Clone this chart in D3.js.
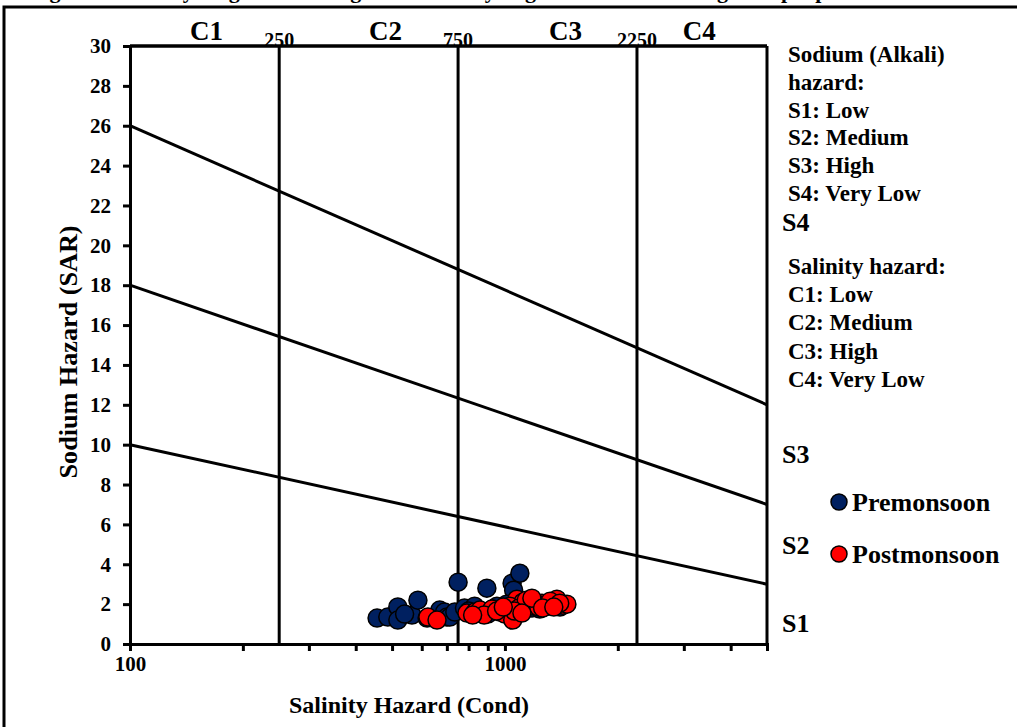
<!DOCTYPE html>
<html>
<head>
<meta charset="utf-8">
<script src="https://cdn.jsdelivr.net/npm/d3@7"></script>
<style>
  body { margin: 0; background: #fff; }
  text { font-family: "Liberation Serif", "Times New Roman", serif; font-weight: bold; fill: #000; }
</style>
</head>
<body>
<svg id="chart" width="1017" height="727"></svg>
<script>
// conductivity (uS/cm) and SAR
let premonsoon = [
  [456, 1.3], [487, 1.35], [518, 1.86], [518, 1.2], [565, 1.45], [586, 2.2],
  [540, 1.5], [620, 1.3], [670, 1.7], [690, 1.6], [700, 1.35], [713, 1.35],
  [750, 3.1], [735, 1.6], [780, 1.8], [830, 1.9], [860, 1.6], [895, 2.8],
  [952, 1.9], [1000, 1.7], [1045, 3.05], [1055, 2.7], [1096, 3.55], [1120, 1.9],
  [1180, 1.8], [1239, 1.75], [1300, 1.9], [1402, 1.85], [900, 1.5], [800, 1.65],
  [930, 1.75], [1010, 2.0]
];
let postmonsoon = [
  [623, 1.35], [659, 1.2], [792, 1.55], [832, 1.6], [858, 1.7], [923, 1.75],
  [970, 1.6], [1000, 1.5], [1049, 1.2], [1076, 2.25], [1117, 2.1], [1166, 1.9],
  [1255, 2.05], [1334, 2.0], [1376, 2.25], [1428, 1.95], [1463, 2.0], [880, 1.45],
  [950, 1.65], [1030, 1.9], [1090, 1.8], [1140, 2.2], [1200, 2.1], [1230, 1.85],
  [1290, 1.95], [1320, 2.15], [1400, 2.05], [1060, 1.65], [990, 1.85], [820, 1.45],
  [1110, 1.55], [1180, 2.3], [1260, 1.8], [1350, 1.85]
];

let xTicks = [100, 1000];
let xMinorTicks = [200, 300, 400, 500, 600, 700, 800, 900, 2000, 3000, 4000, 5000];
let yTicks = d3.range(0, 31, 2);
// class boundaries
let cBounds = [250, 750, 2250];
let cLabels = ["C1", "C2", "C3", "C4"];
let cLabelAt = [160, 480, 1450, 3300];
// S boundary lines: SAR at cond = 100 and at cond = 5000
let sLines = [[10, 3], [18, 7], [26, 12]];
let sLabels = ["S1", "S2", "S3", "S4"];
let sLabelY = [1.0, 4.9, 9.5, 21.1];
let sodiumText = ["Sodium (Alkali)", "hazard:", "S1: Low", "S2: Medium", "S3: High", "S4: Very Low"];
let salinityText = ["Salinity hazard:", "C1: Low", "C2: Medium", "C3: High", "C4: Very Low"];
let seriesNames = ["Premonsoon", "Postmonsoon"];
let seriesColors = ["#002060", "#ff0000"];

let svg = d3.select("#chart");
let plotL = 130, plotR = 767, plotT = 46, plotB = 644;

let x = d3.scaleLog().domain([100, 5000]).range([plotL, plotR]);
let y = d3.scaleLinear().domain([0, 30]).range([plotB, plotT]);

// outer frame + clipped caption
svg.append("rect").attr("x", 4).attr("y", 7).attr("width", 1100).attr("height", 800)
   .attr("fill", "none").attr("stroke", "#000").attr("stroke-width", 3);
svg.append("text").attr("x", 30).attr("y", -2).style("font-size", "22px")
   .text("Fig. 6 US Salinity diagram showing the suitability of groundwater for irrigation purposes");

// axes
let yAxis = svg.append("g").attr("transform", `translate(${plotL},0)`)
   .call(d3.axisLeft(y).tickValues(yTicks).tickSize(7).tickPadding(12));
yAxis.selectAll("text").style("font-size", "21px");

let xAxis = svg.append("g").attr("transform", `translate(0,${plotB})`)
   .call(d3.axisBottom(x).tickValues(xTicks.concat(xMinorTicks)).tickSize(7).tickPadding(5)
         .tickFormat(d => xTicks.includes(d) ? d : ""));
xAxis.selectAll("text").style("font-size", "21px");

svg.selectAll(".domain, .tick line").attr("stroke", "#000").attr("stroke-width", 3);

// plot frame top & right
svg.append("line").attr("x1", plotL).attr("x2", plotR).attr("y1", plotT).attr("y2", plotT)
   .attr("stroke", "#000").attr("stroke-width", 3.5);
svg.append("line").attr("x1", plotR).attr("x2", plotR).attr("y1", plotT).attr("y2", plotB)
   .attr("stroke", "#000").attr("stroke-width", 3);

// C boundaries
svg.selectAll(".cline").data(cBounds).enter().append("line")
   .attr("x1", d => x(d)).attr("x2", d => x(d)).attr("y1", y(0)).attr("y2", y(30))
   .attr("stroke", "#000").attr("stroke-width", 3);
svg.selectAll(".cnum").data(cBounds).enter().append("text")
   .attr("x", d => x(d)).attr("y", plotT + 1).attr("text-anchor", "middle")
   .style("font-size", "20px").text(d => d);
svg.selectAll(".clab").data(cLabels).enter().append("text")
   .attr("x", (d, i) => x(cLabelAt[i])).attr("y", 40).attr("text-anchor", "middle")
   .style("font-size", "27px").text(d => d);

// S boundaries
svg.selectAll(".sline").data(sLines).enter().append("line")
   .attr("x1", x(100)).attr("y1", d => y(d[0]))
   .attr("x2", x(5000)).attr("y2", d => y(d[1]))
   .attr("stroke", "#000").attr("stroke-width", 3);
svg.selectAll(".slab").data(sLabels).enter().append("text")
   .attr("x", 782).attr("y", (d, i) => y(sLabelY[i]) + 8)
   .style("font-size", "26px").text(d => d);

// points
[premonsoon, postmonsoon].forEach(function(series, i){
  svg.append("g").selectAll("circle").data(series).enter().append("circle")
     .attr("cx", d => x(d[0])).attr("cy", d => y(d[1])).attr("r", 9)
     .attr("fill", seriesColors[i]).attr("stroke", "#000").attr("stroke-width", 1.5);
});

// right side notes
svg.selectAll(".sod").data(sodiumText).enter().append("text")
   .attr("x", 788).attr("y", (d, i) => 62 + i * 27.8)
   .style("font-size", "23px").text(d => d);
svg.selectAll(".sal").data(salinityText).enter().append("text")
   .attr("x", 788).attr("y", (d, i) => 274 + i * 28.2)
   .style("font-size", "23px").text(d => d);

// legend
let legend = svg.selectAll(".leg").data(seriesNames).enter().append("g")
   .attr("transform", (d, i) => `translate(839,${502 + i * 52})`);
legend.append("circle").attr("r", 8).attr("fill", (d, i) => seriesColors[i])
   .attr("stroke", "#000").attr("stroke-width", 1.5);
legend.append("text").attr("x", 13).attr("y", 9).style("font-size", "26px").text(d => d);

// axis titles
svg.append("text").attr("x", 409).attr("y", 713).attr("text-anchor", "middle")
   .style("font-size", "24px").text("Salinity Hazard (Cond)");
svg.append("text").attr("transform", "translate(77,352) rotate(-90)").attr("text-anchor", "middle")
   .attr("textLength", 253).attr("lengthAdjust", "spacingAndGlyphs")
   .style("font-size", "25px").text("Sodium Hazard (SAR)");
</script>
</body>
</html>
